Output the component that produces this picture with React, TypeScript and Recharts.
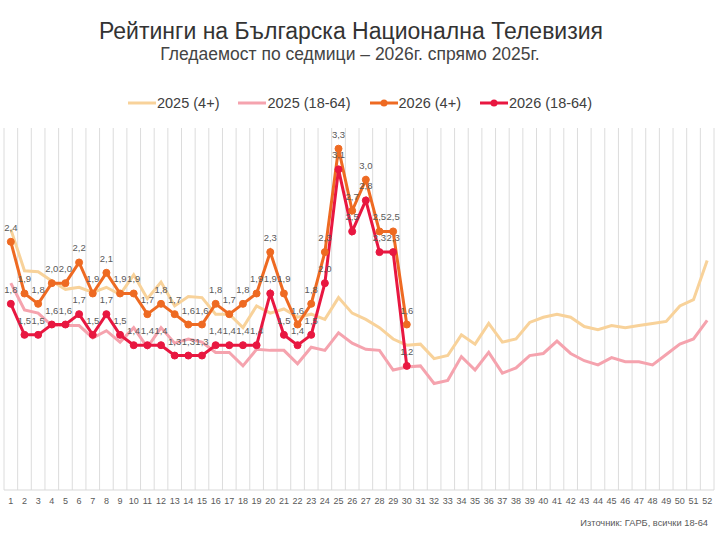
import { CartesianGrid, LabelList, Legend, Line, LineChart, XAxis, YAxis } from "recharts"

// weeks of the year
const weeks = [
    1, 2, 3, 4, 5, 6, 7, 8, 9, 10, 11, 12, 13, 14, 15, 16, 17, 18, 19, 20, 21, 22, 23, 24, 25, 26,
    27, 28, 29, 30, 31, 32, 33, 34, 35, 36, 37, 38, 39, 40, 41, 42, 43, 44, 45, 46, 47, 48, 49, 50, 51, 52
]

// series names in legend order
const seriesNames = ["2025 (4+)", "2025 (18-64)", "2026 (4+)", "2026 (18-64)"]

// 2025 (4+)
const rating2025All = [
    2.52, 2.12, 2.11, 2.02, 1.94, 1.96, 1.91, 1.96, 1.89, 2.08, 1.85, 2.01, 1.78, 1.87, 1.86, 1.70, 1.70,
    1.57, 1.78, 1.71, 1.75, 1.67, 1.70, 1.65, 1.86, 1.71, 1.65, 1.57, 1.46, 1.40, 1.41, 1.27, 1.30, 1.50,
    1.41, 1.61, 1.43, 1.46, 1.62, 1.67, 1.70, 1.67, 1.58, 1.55, 1.59, 1.57, 1.59, 1.61, 1.63, 1.78, 1.84, 2.22
]

// 2025 (18-64)
const rating2025Adults = [
    2.00, 1.74, 1.71, 1.59, 1.59, 1.59, 1.47, 1.54, 1.43, 1.57, 1.38, 1.57, 1.42, 1.46, 1.43, 1.33, 1.33,
    1.20, 1.36, 1.35, 1.35, 1.22, 1.38, 1.35, 1.52, 1.42, 1.36, 1.35, 1.16, 1.19, 1.20, 1.03, 1.06, 1.29,
    1.16, 1.33, 1.13, 1.18, 1.30, 1.32, 1.44, 1.32, 1.25, 1.21, 1.28, 1.24, 1.24, 1.21, 1.31, 1.41, 1.46, 1.64
]

// 2026 (4+), weeks 1-30
const rating2026All = [
    2.4, 1.9, 1.8, 2.0, 2.0, 2.2, 1.9, 2.1, 1.9, 1.9, 1.7, 1.8, 1.7, 1.6, 1.6,
    1.8, 1.7, 1.8, 1.9, 2.3, 1.9, 1.6, 1.8, 2.3, 3.3, 2.7, 3.0, 2.5, 2.5, 1.6
]

// 2026 (18-64), weeks 1-30
const rating2026Adults = [
    1.8, 1.5, 1.5, 1.6, 1.6, 1.7, 1.5, 1.7, 1.5, 1.4, 1.4, 1.4, 1.3, 1.3, 1.3,
    1.4, 1.4, 1.4, 1.4, 1.9, 1.5, 1.4, 1.5, 2.0, 3.1, 2.5, 2.8, 2.3, 2.3, 1.2
]

const FONT = '"Liberation Sans", Arial, sans-serif'

const formatLabel = (v: unknown) =>
    v === null || v === undefined ? "" : Number(v).toFixed(1).replace(".", ",")

const LegendContent = ({ payload }: { payload?: any[] }) => {
    if (!payload?.length) return null
    const items = [...payload].sort((a, b) => seriesNames.indexOf(a.value) - seriesNames.indexOf(b.value))
    return (
        <div style={{ display: "flex", justifyContent: "center", alignItems: "center", fontSize: 14.5, color: "#404040", fontFamily: FONT }}>
            {items.map((entry, i) => (
                <div key={i} style={{ display: "flex", alignItems: "center", marginRight: i === items.length - 1 ? 0 : 19 }}>
                    <svg width={28} height={10}>
                        <line x1={0} x2={28} y1={5} y2={5} stroke={entry.color} strokeWidth={3} />
                        {String(entry.dataKey).startsWith("r26") && <circle cx={14} cy={5} r={3.5} fill={entry.color} />}
                    </svg>
                    <span style={{ marginLeft: 1 }}>{entry.value}</span>
                </div>
            ))}
        </div>
    )
}

export default function App() {
    const chartData = weeks.map((week, i) => ({
        week,
        r25all: rating2025All[i],
        r25adults: rating2025Adults[i],
        r26all: rating2026All[i] ?? null,
        r26adults: rating2026Adults[i] ?? null
    }))

    return (
        <div style={{ position: "absolute", left: 0, top: 0, width: 720, height: 540, background: "#fff", fontFamily: FONT }}>
            <div style={{ position: "absolute", top: 18, left: 0, width: 702, textAlign: "center", fontSize: 23, lineHeight: "27px", color: "#333" }}>
                Рейтинги на Българска Национална Телевизия
            </div>
            <div style={{ position: "absolute", top: 44, left: 0, width: 700, textAlign: "center", fontSize: 17.5, lineHeight: "21px", color: "#444" }}>
                Гледаемост по седмици – 2026г. спрямо 2025г.
            </div>

            <LineChart width={720} height={540} data={chartData} margin={{ top: 128, left: 4, right: 6, bottom: 20 }}>
                <CartesianGrid
                    horizontal={false}
                    stroke="#dcdcdc"
                    verticalCoordinatesGenerator={({ offset }: any) =>
                        weeks.concat([0]).map((_, k) => offset.left + (k * offset.width) / weeks.length)
                    }
                />
                <XAxis
                    dataKey="week"
                    type="number"
                    domain={[0.5, 52.5]}
                    ticks={weeks}
                    interval={0}
                    tickLine={false}
                    axisLine={{ stroke: "#d9d9d9" }}
                    tick={{ fontSize: 9, fill: "#595959", fontFamily: FONT }}
                    height={30}
                />
                <YAxis hide domain={[0, 3.5]} />
                <Legend
                    verticalAlign="middle"
                    layout="horizontal"
                    wrapperStyle={{ top: 95, left: 0, width: 720 }}
                    content={<LegendContent />}
                />

                <Line dataKey="r25all" name={seriesNames[0]} stroke="#F8D29A" strokeWidth={3} dot={false} isAnimationActive={false} />
                <Line dataKey="r25adults" name={seriesNames[1]} stroke="#F5A3AE" strokeWidth={3} dot={false} isAnimationActive={false} />
                <Line
                    dataKey="r26all"
                    name={seriesNames[2]}
                    stroke="#EE6A22"
                    strokeWidth={3}
                    dot={{ r: 3.5, fill: "#EE6A22", stroke: "#EE6A22", strokeWidth: 1 }}
                    isAnimationActive={false}
                >
                    <LabelList dataKey="r26all" position="top" offset={11} formatter={formatLabel} style={{ fontSize: 9.5, fill: "#595959", fontFamily: FONT }} />
                </Line>
                <Line
                    dataKey="r26adults"
                    name={seriesNames[3]}
                    stroke="#E81740"
                    strokeWidth={3}
                    dot={{ r: 3.5, fill: "#E81740", stroke: "#E81740", strokeWidth: 1 }}
                    isAnimationActive={false}
                >
                    <LabelList dataKey="r26adults" position="top" offset={11} formatter={formatLabel} style={{ fontSize: 9.5, fill: "#595959", fontFamily: FONT }} />
                </Line>
            </LineChart>

            <div style={{ position: "absolute", top: 517, right: 12, fontSize: 9.3, lineHeight: "12px", color: "#595959" }}>
                Източник: ГАРБ, всички 18-64
            </div>
        </div>
    )
}
